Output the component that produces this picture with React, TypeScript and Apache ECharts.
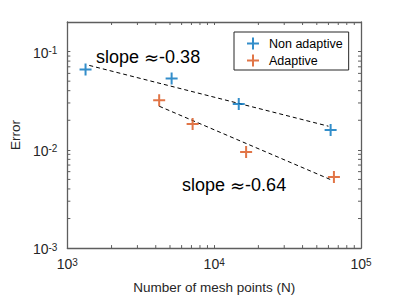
import React, { useEffect, useRef } from "react";
import * as echarts from "echarts";

const nonAdaptiveN = [1330, 5130, 14700, 62100];
const nonAdaptiveErr = [0.0658, 0.0533, 0.0292, 0.0159];
const adaptiveN = [4220, 7130, 16500, 65400];
const adaptiveErr = [0.032, 0.0183, 0.0095, 0.0053];

const fitNonAdaptiveN = [1410, 60000];
const fitNonAdaptiveErr = [0.0723, 0.0174];
const fitAdaptiveN = [4220, 62000];
const fitAdaptiveErr = [0.0278, 0.00498];

const xMinorTicks = [2000, 3000, 4000, 5000, 6000, 7000, 8000, 9000, 20000, 30000, 40000, 50000, 60000, 70000, 80000, 90000];
const yMinorTicks = [0.002, 0.003, 0.004, 0.005, 0.006, 0.007, 0.008, 0.009, 0.02, 0.03, 0.04, 0.05, 0.06, 0.07, 0.08, 0.09];

const X_MIN = 1000;
const X_MAX = 100000;
const Y_MIN = 0.001;
const Y_MAX = 0.2;

const BLUE = "#0072BD";
const ORANGE = "#D95319";
const AXIS = "#5e5e5e";
const TXT = "#262626";
const FONT = "Liberation Sans, Arial, sans-serif";
const PLUS = "path://M5,0h2v5h5v2h-5v5h-2v-5h-5v-2h5z";

const powLabel = (v: number) => {
  const e = Math.log10(v);
  const r = Math.round(e);
  if (Math.abs(e - r) > 1e-6) return "";
  return "{b|10}{s|" + r + "}";
};

const rich = {
  b: { fontSize: 14, lineHeight: 14, verticalAlign: "bottom", color: TXT, fontFamily: FONT },
  s: { fontSize: 10, lineHeight: 10, padding: [0, 0, 8, 0], verticalAlign: "top", color: TXT, fontFamily: FONT },
};

const slopeRich = {
  t: { fontSize: 18, color: "#000", fontFamily: FONT },
  a: { fontSize: 18, color: "#000", fontFamily: "DejaVu Sans, sans-serif" },
};

export default function App() {
  const ref = useRef<HTMLDivElement>(null);
  useEffect(() => {
    if (!ref.current) return;
    const chart = echarts.init(ref.current, null, { renderer: "svg" });
    const tickLen = 3;
    chart.setOption({
      animation: false,
      backgroundColor: "#fff",
      textStyle: { fontFamily: FONT },
      grid: { left: 54, right: 38, top: 22, bottom: 49 },
      legend: {
        left: 234,
        top: 32,
        orient: "vertical",
        itemWidth: 18,
        itemHeight: 12,
        itemGap: 4,
        padding: [5, 6, 3, 13],
        borderColor: "#262626",
        borderWidth: 1,
        backgroundColor: "#fff",
        textStyle: { fontSize: 12.5, color: "#000", fontFamily: FONT, padding: [0, 0, 0, 2] },
        data: [
          { name: "Non adaptive", icon: PLUS },
          { name: "Adaptive", icon: PLUS },
        ],
      },
      xAxis: [
        {
          type: "log",
          logBase: 10,
          min: X_MIN,
          max: X_MAX,
          name: "Number of mesh points (N)",
          nameLocation: "middle",
          nameGap: 31,
          nameTextStyle: { fontSize: 13.5, color: TXT, fontFamily: FONT },
          axisLine: { show: true, lineStyle: { color: AXIS, width: 1.3 } },
          axisTick: { show: true, inside: true, length: tickLen, lineStyle: { color: AXIS } },
          axisLabel: { formatter: powLabel, rich, margin: 9 },
          splitLine: { show: false },
          minorTick: { show: false },
        },
        {
          type: "log",
          logBase: 10,
          min: X_MIN,
          max: X_MAX,
          position: "top",
          axisLine: { show: true, lineStyle: { color: AXIS, width: 1.3 } },
          axisTick: { show: true, inside: true, length: tickLen, lineStyle: { color: AXIS } },
          axisLabel: { show: false },
          splitLine: { show: false },
        },
      ],
      yAxis: [
        {
          type: "log",
          logBase: 10,
          min: Y_MIN,
          max: Y_MAX,
          name: "Error",
          nameLocation: "middle",
          nameGap: 43,
          nameTextStyle: { fontSize: 13.5, color: TXT, fontFamily: FONT },
          axisLine: { show: true, lineStyle: { color: AXIS, width: 1.3 } },
          axisTick: { show: true, inside: true, length: tickLen, lineStyle: { color: AXIS } },
          axisLabel: { formatter: powLabel, rich, margin: 10, padding: [2, 0, 0, 0] },
          splitLine: { show: false },
          minorTick: { show: false },
        },
        {
          type: "log",
          logBase: 10,
          min: Y_MIN,
          max: Y_MAX,
          position: "right",
          axisLine: { show: true, lineStyle: { color: AXIS, width: 1.3 } },
          axisTick: { show: true, inside: true, length: tickLen, lineStyle: { color: AXIS } },
          axisLabel: { show: false },
          splitLine: { show: false },
        },
      ],
      series: [
        {
          name: "fitNon",
          type: "line",
          data: fitNonAdaptiveN.map((n, i) => [n, fitNonAdaptiveErr[i]]),
          symbol: "none",
          lineStyle: { color: "#000", width: 1, type: [4, 3] },
          z: 2,
        },
        {
          name: "fitAd",
          type: "line",
          data: fitAdaptiveN.map((n, i) => [n, fitAdaptiveErr[i]]),
          symbol: "none",
          lineStyle: { color: "#000", width: 1, type: [4, 3] },
          z: 2,
        },
        {
          name: "Non adaptive",
          type: "scatter",
          data: nonAdaptiveN.map((n, i) => [n, nonAdaptiveErr[i]]),
          symbol: PLUS,
          symbolSize: 12,
          itemStyle: { color: BLUE },
          z: 3,
        },
        {
          name: "Adaptive",
          type: "scatter",
          data: adaptiveN.map((n, i) => [n, adaptiveErr[i]]),
          symbol: PLUS,
          symbolSize: 12,
          itemStyle: { color: ORANGE },
          z: 3,
        },
        {
          name: "xMinor",
          type: "custom",
          data: xMinorTicks.map((v) => [v, Y_MIN]),
          silent: true,
          renderItem: (params: any, api: any) => {
            const v = api.value(0);
            const b = api.coord([v, Y_MIN]);
            const t = api.coord([v, Y_MAX]);
            const st = { stroke: AXIS, lineWidth: 1 };
            return {
              type: "group",
              children: [
                { type: "line", shape: { x1: b[0], y1: b[1], x2: b[0], y2: b[1] - tickLen }, style: st },
                { type: "line", shape: { x1: t[0], y1: t[1], x2: t[0], y2: t[1] + tickLen }, style: st },
              ],
            };
          },
        },
        {
          name: "yMinor",
          type: "custom",
          data: yMinorTicks.map((v) => [X_MIN, v]),
          silent: true,
          renderItem: (params: any, api: any) => {
            const v = api.value(1);
            const l = api.coord([X_MIN, v]);
            const r = api.coord([X_MAX, v]);
            const st = { stroke: AXIS, lineWidth: 1 };
            return {
              type: "group",
              children: [
                { type: "line", shape: { x1: l[0], y1: l[1], x2: l[0] + tickLen, y2: l[1] }, style: st },
                { type: "line", shape: { x1: r[0], y1: r[1], x2: r[0] - tickLen, y2: r[1] }, style: st },
              ],
            };
          },
        },
      ],
      graphic: [
        {
          type: "text",
          x: 96,
          y: 57,
          style: { text: "{t|slope }{a|≈}{t|-0.38}", rich: slopeRich, verticalAlign: "middle" },
        },
        {
          type: "text",
          x: 182,
          y: 185,
          style: { text: "{t|slope }{a|≈}{t|-0.64}", rich: slopeRich, verticalAlign: "middle" },
        },
      ],
    });
    return () => chart.dispose();
  }, []);
  return <div ref={ref} style={{ position: "fixed", left: 0, top: 0, width: 399, height: 299 }} />;
}
